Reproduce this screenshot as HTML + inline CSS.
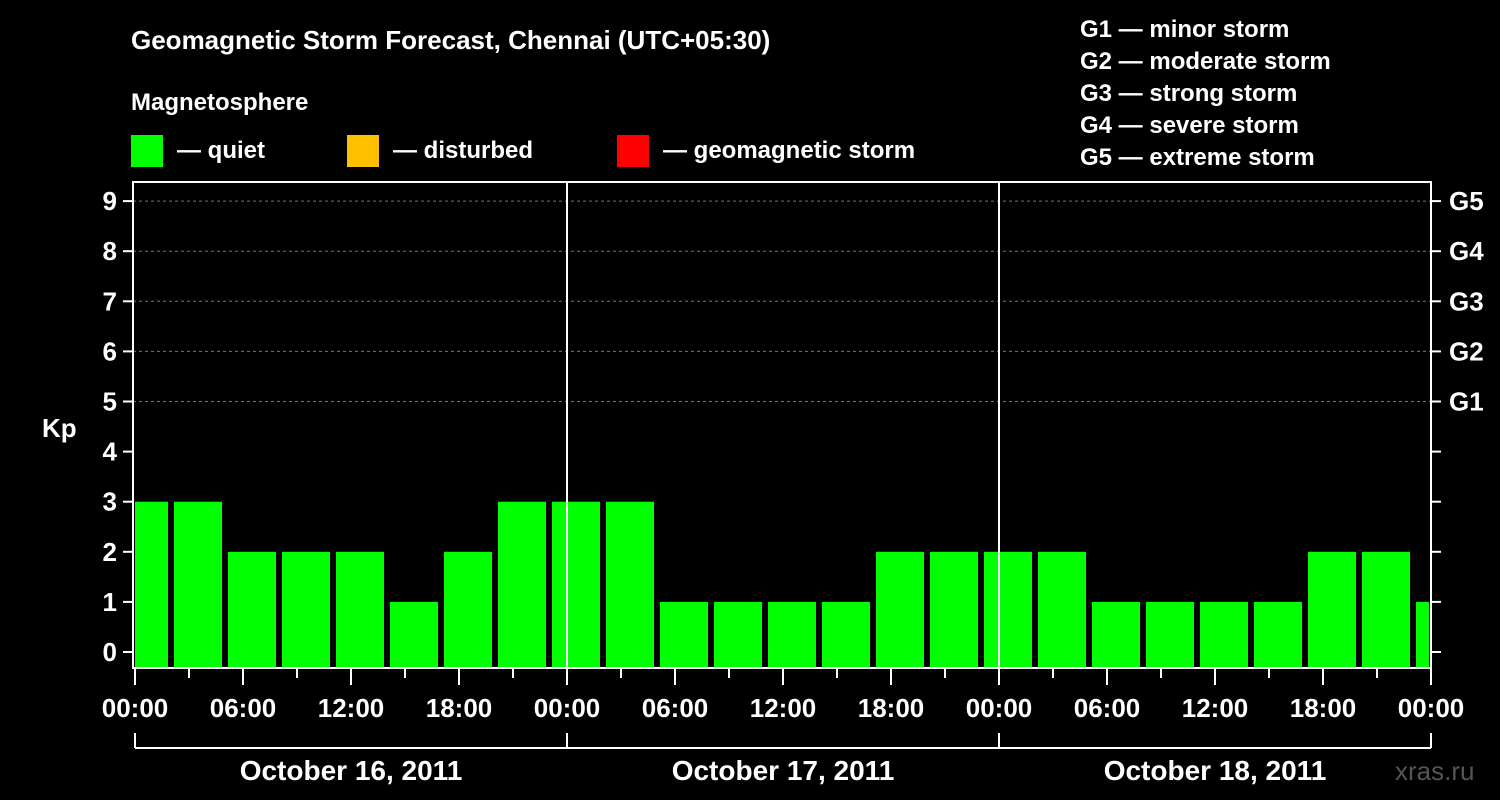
<!DOCTYPE html>
<html><head><meta charset="utf-8"><style>
body{margin:0;background:#000;}
svg{display:block;font-family:"Liberation Sans",sans-serif;font-weight:bold;}
</style></head><body>
<svg width="1500" height="800" viewBox="0 0 1500 800">
<rect width="1500" height="800" fill="#000"/>
<text x="131" y="49" fill="#fff" font-size="26">Geomagnetic Storm Forecast, Chennai (UTC+05:30)</text>
<text x="131" y="110" fill="#fff" font-size="24">Magnetosphere</text>
<g><rect x="131" y="135" width="32" height="32" fill="#00ff00"/><text x="177" y="158" fill="#fff" font-size="24">— quiet</text></g>
<g><rect x="347" y="135" width="32" height="32" fill="#ffc000"/><text x="393" y="158" fill="#fff" font-size="24">— disturbed</text></g>
<g><rect x="617" y="135" width="32" height="32" fill="#ff0000"/><text x="663" y="158" fill="#fff" font-size="24">— geomagnetic storm</text></g>
<g fill="#fff" font-size="24">
<text x="1080" y="37">G1 — minor storm</text>
<text x="1080" y="69">G2 — moderate storm</text>
<text x="1080" y="101">G3 — strong storm</text>
<text x="1080" y="133">G4 — severe storm</text>
<text x="1080" y="165">G5 — extreme storm</text>
</g>
<text x="42" y="437" fill="#fff" font-size="26">Kp</text>
<g id="chart"></g>
<text x="1395" y="780" fill="#555" font-size="26" font-weight="normal">xras.ru</text>
</svg>
<script>
const kpValues=[3,3,2,2,2,1,2,3,3,3,1,1,1,1,2,2,2,2,1,1,1,1,2,2,1];
const yTicks=[0,1,2,3,4,5,6,7,8,9];
const gLabels=["G1","G2","G3","G4","G5"];
const xTickLabels=["00:00","06:00","12:00","18:00","00:00","06:00","12:00","18:00","00:00","06:00","12:00","18:00","00:00"];
const dates=["October 16, 2011","October 17, 2011","October 18, 2011"];
const NS="http://www.w3.org/2000/svg";
const g=document.getElementById('chart');
const X0=135,PXH=18,L=133,R=1431,T=182,B=668;
const x=h=>X0+h*PXH;
const y=v=>652-v*50.1;
function mk(t,a,p){const e=document.createElementNS(NS,t);for(const k in a)e.setAttribute(k,a[k]);(p||g).appendChild(e);return e;}
// grid
[5,6,7,8,9].forEach(v=>{const e=mk('line',{x1:L,x2:R,y1:y(v),y2:y(v),stroke:'#777','stroke-dasharray':'3,3'});

});
// bars
const defs=mk('defs',{});const cp=mk('clipPath',{id:'pc'},defs);mk('rect',{x:L+2,y:T,width:R-L-4,height:B-T},cp);
const bg=mk('g',{'clip-path':'url(#pc)'});
kpValues.forEach((v,i)=>{const s=-1+3*i;const c=v>=5?'#ff0000':(v>=4?'#ffc000':'#00ff00');
const r=mk('rect',{x:x(s)+3,y:y(v),width:3*PXH-6,height:B-1-y(v),fill:c},bg);

});
// day lines
[24,48].forEach(h=>{const e=mk('line',{x1:x(h),x2:x(h),y1:T,y2:B,stroke:'#fff','stroke-width':2});

});
// frame
const fr=mk('rect',{x:L,y:T,width:R-L,height:B-T,fill:'none',stroke:'#fff','stroke-width':2});


// y ticks
yTicks.forEach(v=>{mk('line',{x1:L-10,x2:L,y1:y(v),y2:y(v),stroke:'#fff','stroke-width':2});
mk('line',{x1:R,x2:R+10,y1:y(v),y2:y(v),stroke:'#fff','stroke-width':2});
const t=mk('text',{x:L-16,y:y(v)+9,fill:'#fff','font-size':26,'text-anchor':'end'});t.textContent=v;

});
gLabels.forEach((s,i)=>{const t=mk('text',{x:1449,y:y(5+i)+9,fill:'#fff','font-size':26});t.textContent=s;

});
// x ticks
for(let h=0;h<=72;h+=3){const maj=h%6===0;mk('line',{x1:x(h),x2:x(h),y1:B,y2:B+(maj?17:10),stroke:'#fff','stroke-width':2});}
xTickLabels.forEach((s,i)=>{const t=mk('text',{x:x(i*6),y:717,fill:'#fff','font-size':26,'text-anchor':'middle'});t.textContent=s;

});
// date bracket
mk('line',{x1:x(0),x2:x(72),y1:748,y2:748,stroke:'#fff','stroke-width':2});
[0,24,48,72].forEach(h=>mk('line',{x1:x(h),x2:x(h),y1:733,y2:748,stroke:'#fff','stroke-width':2}));
dates.forEach((s,i)=>{const t=mk('text',{x:x(i*24+12),y:780,fill:'#fff','font-size':28,'text-anchor':'middle'});t.textContent=s;

});
</script>
</body></html>
